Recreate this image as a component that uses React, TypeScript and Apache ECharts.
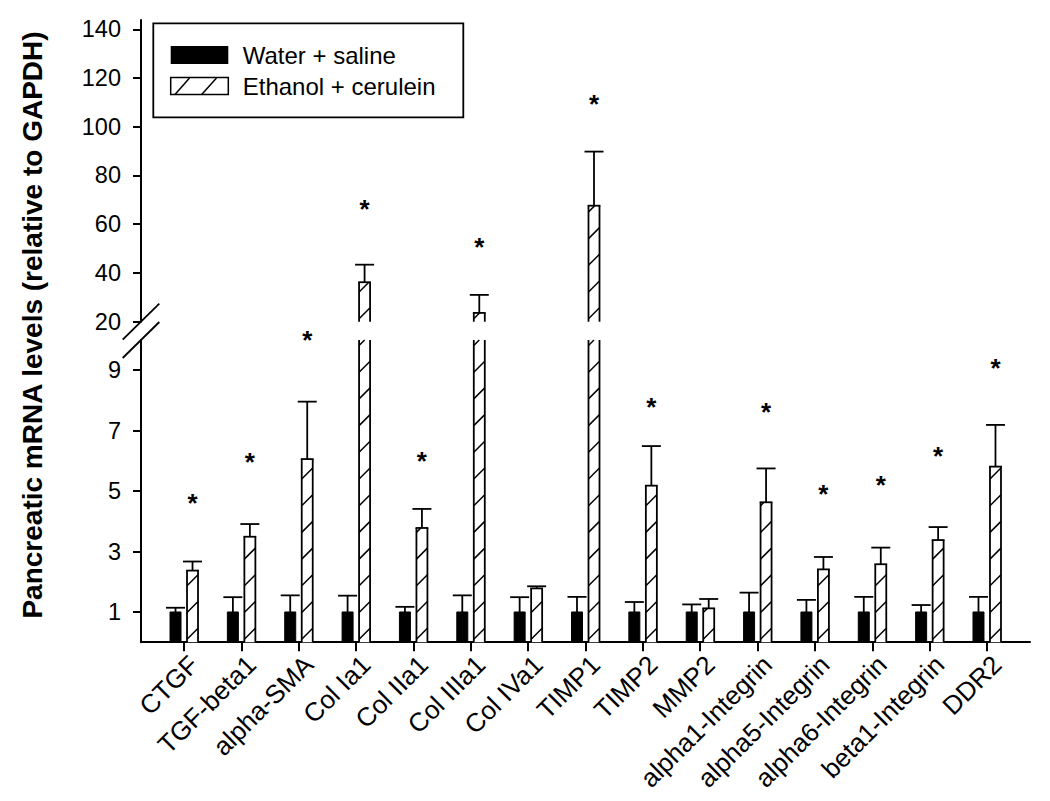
import React, { useEffect, useRef } from 'react';
import * as echarts from 'echarts';

const categories = [
  'CTGF', 'TGF-beta1', 'alpha-SMA', 'Col Ia1', 'Col IIa1', 'Col IIIa1', 'Col IVa1',
  'TIMP1', 'TIMP2', 'MMP2', 'alpha1-Integrin', 'alpha5-Integrin', 'alpha6-Integrin',
  'beta1-Integrin', 'DDR2',
];
const waterMean = [1, 1, 1, 1, 1, 1, 1, 1, 1, 1, 1, 1, 1, 1, 1];
const waterErrTop = [1.14, 1.49, 1.55, 1.54, 1.17, 1.55, 1.49, 1.5, 1.33, 1.25, 1.64, 1.4, 1.5, 1.23, 1.5];
const ethanolMean = [2.37, 3.49, 6.06, 36.2, 3.78, 23.6, 1.78, 67.6, 5.18, 1.12, 4.63, 2.41, 2.58, 3.38, 5.81];
const ethanolErrTop = [2.67, 3.91, 7.96, 43.4, 4.41, 31.0, 1.85, 89.8, 6.49, 1.43, 5.75, 2.82, 3.13, 3.81, 7.19];
const starLevels: (number | null)[] = [4.8, 6.14, 10.17, 68.7, 6.17, 53.1, null, 111.6, 7.95, null, 7.8, 5.1, 5.4, 6.33, 9.25];
const upperTicks = [20, 40, 60, 80, 100, 120, 140];
const lowerTicks = [1, 3, 5, 7, 9];
const categoryIndex = categories.map((_, i) => i);

const legendNames = ['Water + saline', 'Ethanol + cerulein'];
const yTitle = 'Pancreatic mRNA levels (relative to GAPDH)';

const FONT = '"Liberation Sans", Arial, Helvetica, sans-serif';
const BAR_W = 11;
const BAR_OFF = 8.5;
const CAP_HALF = 9.5;
const HATCH_STEP = 26.7;
const LW = 1.8;
const LOWER_MIN = 0;
const LOWER_MAX = 10;
const UPPER_MIN = 20;
const UPPER_MAX = 143.8;
const X_MIN = -0.75;
const X_MAX = 14.75;

function makeRender(axisMin: number, axisMax: number, isLower: boolean) {
  return (params: any, api: any) => {
    const i = params.dataIndex;
    const children: any[] = [];
    const base = api.coord([i, axisMin]);
    const cx = base[0];
    const yBottom = base[1];
    const yLimit = api.coord([i, axisMax])[1];
    const line = (x1: number, y1: number, x2: number, y2: number, w = LW) =>
      children.push({ type: 'line', shape: { x1, y1, x2, y2 }, style: { stroke: '#000', lineWidth: w } });

    const bar = (val: number, err: number, center: number, hatched: boolean) => {
      let yTop = yBottom;
      if (val > axisMin) {
        const clippedTop = val > axisMax;
        yTop = clippedTop ? yLimit : api.coord([i, val])[1];
        const x0 = center - BAR_W / 2;
        const x1 = center + BAR_W / 2;
        if (!hatched) {
          children.push({
            type: 'rect',
            shape: { x: x0, y: yTop, width: BAR_W, height: yBottom - yTop },
            style: { fill: '#000', stroke: '#000', lineWidth: 1 },
          });
        } else {
          children.push({
            type: 'rect',
            shape: { x: x0, y: yTop, width: BAR_W, height: yBottom - yTop },
            style: { fill: '#fff' },
          });
          for (let k = 0; ; k++) {
            const yL = yBottom - 3 - k * HATCH_STEP;
            if (yL <= yTop) break;
            const t0 = Math.max(0, yL - yBottom);
            const t1 = Math.min(BAR_W, yL - yTop);
            if (t1 > t0) line(x0 + t0, yL - t0, x0 + t1, yL - t1, 1.5);
          }
          line(x0, yBottom, x0, yTop);
          line(x1, yBottom, x1, yTop);
          if (!clippedTop) line(x0 - LW / 2, yTop, x1 + LW / 2, yTop);
        }
      }
      if (err > axisMin && err <= axisMax && err > val) {
        const yErr = api.coord([i, err])[1];
        line(center, yTop, center, yErr);
        line(center - CAP_HALF, yErr, center + CAP_HALF, yErr);
      }
    };

    bar(waterMean[i], waterErrTop[i], cx - BAR_OFF, false);
    bar(ethanolMean[i], ethanolErrTop[i], cx + BAR_OFF, true);

    const s = starLevels[i];
    if (s != null && (isLower ? s <= 10.5 : s > 10.5)) {
      const p = api.coord([i, s]);
      children.push({
        type: 'text',
        x: cx + BAR_OFF,
        y: p[1] + 5.5,
        style: {
          text: '*',
          font: `bold 26px ${FONT}`,
          fill: '#000',
          align: 'center',
          verticalAlign: 'middle',
        },
      });
    }

    if (i === 0) {
      const a = api.coord([X_MIN, isLower ? axisMax : axisMin]);
      line(a[0] - 18.3, a[1] + 18, a[0] + 18.3, a[1] - 18);
    }
    return { type: 'group', children };
  };
}

export default function App() {
  const ref = useRef<HTMLDivElement>(null);
  useEffect(() => {
    if (!ref.current) return;
    const chart = echarts.init(ref.current, null, { renderer: 'svg' });
    const axisLineStyle = { color: '#000', width: 2 };
    const labelStyle = { color: '#000', fontFamily: FONT, fontSize: 23.5 };
    chart.setOption({
      animation: false,
      backgroundColor: '#fff',
      grid: [
        { left: 141, right: 20, top: 20, height: 301.7 },
        { left: 141, right: 20, top: 340, height: 302.2 },
      ],
      xAxis: [
        { type: 'value', gridIndex: 0, min: X_MIN, max: X_MAX, show: false },
        {
          type: 'value',
          gridIndex: 1,
          min: X_MIN,
          max: X_MAX,
          splitLine: { show: false },
          axisLine: { show: true, onZero: false, lineStyle: axisLineStyle },
          axisTick: { show: true, length: 9, lineStyle: { color: '#000', width: 2 }, customValues: categoryIndex },
          axisLabel: {
            color: '#000',
            fontFamily: FONT,
            fontSize: 26,
            customValues: categoryIndex,
            rotate: 45,
            margin: 8,
            verticalAlign: 'top',
            lineHeight: 28,
            showMinLabel: true,
            showMaxLabel: true,
            hideOverlap: false,
            formatter: (v: number) => categories[Math.round(v)] ?? '',
          },
        },
      ],
      yAxis: [
        {
          type: 'value',
          gridIndex: 0,
          min: UPPER_MIN,
          max: UPPER_MAX,
          splitLine: { show: false },
          axisLine: { show: true, onZero: false, lineStyle: axisLineStyle },
          axisTick: { show: true, length: 8, lineStyle: { color: '#000', width: 2 }, customValues: upperTicks },
          axisLabel: { ...labelStyle, margin: 20, customValues: upperTicks },
        },
        {
          type: 'value',
          gridIndex: 1,
          min: LOWER_MIN,
          max: LOWER_MAX,
          splitLine: { show: false },
          axisLine: { show: true, onZero: false, lineStyle: axisLineStyle },
          axisTick: { show: true, length: 8, lineStyle: { color: '#000', width: 2 }, customValues: lowerTicks },
          axisLabel: { ...labelStyle, margin: 20, customValues: lowerTicks },
        },
      ],
      series: [
        {
          type: 'custom',
          name: 'upper',
          xAxisIndex: 0,
          yAxisIndex: 0,
          clip: false,
          renderItem: makeRender(UPPER_MIN, UPPER_MAX, false),
          data: categoryIndex.map((i) => [i, ethanolMean[i]]),
          encode: { x: 0, y: 1 },
          z: 3,
        },
        {
          type: 'custom',
          name: 'lower',
          xAxisIndex: 1,
          yAxisIndex: 1,
          clip: false,
          renderItem: makeRender(LOWER_MIN, LOWER_MAX, true),
          data: categoryIndex.map((i) => [i, waterMean[i]]),
          encode: { x: 0, y: 1 },
          z: 1,
        },
      ],
      graphic: [
        {
          type: 'text',
          x: 32,
          y: 325,
          rotation: Math.PI / 2,
          style: {
            text: yTitle,
            font: `bold 28px ${FONT}`,
            fill: '#000',
            align: 'center',
            verticalAlign: 'middle',
          },
        },
        {
          type: 'group',
          z: 10,
          children: [
            {
              type: 'rect',
              shape: { x: 153.3, y: 23.3, width: 310, height: 94 },
              style: { fill: '#fff', stroke: '#000', lineWidth: 1.8 },
            },
            {
              type: 'rect',
              shape: { x: 170.7, y: 46, width: 57.6, height: 18 },
              style: { fill: '#000' },
            },
            {
              type: 'rect',
              shape: { x: 170.7, y: 77.5, width: 57.6, height: 17 },
              style: { fill: '#fff', stroke: '#000', lineWidth: 1.5 },
            },
            {
              type: 'line',
              shape: { x1: 175, y1: 94.5, x2: 189.5, y2: 78 },
              style: { stroke: '#000', lineWidth: 1.5 },
            },
            {
              type: 'line',
              shape: { x1: 201.7, y1: 94.5, x2: 216.5, y2: 78 },
              style: { stroke: '#000', lineWidth: 1.5 },
            },
            {
              type: 'text',
              x: 242.7,
              y: 55.5,
              style: { text: legendNames[0], font: `24px ${FONT}`, fill: '#000', verticalAlign: 'middle' },
            },
            {
              type: 'text',
              x: 242.7,
              y: 86.5,
              style: { text: legendNames[1], font: `24px ${FONT}`, fill: '#000', verticalAlign: 'middle' },
            },
          ],
        },
      ],
    });
    return () => chart.dispose();
  }, []);
  return (
    <div
      ref={ref}
      style={{ position: 'fixed', left: 0, top: 0, width: 1050, height: 801, background: '#fff' }}
    />
  );
}
